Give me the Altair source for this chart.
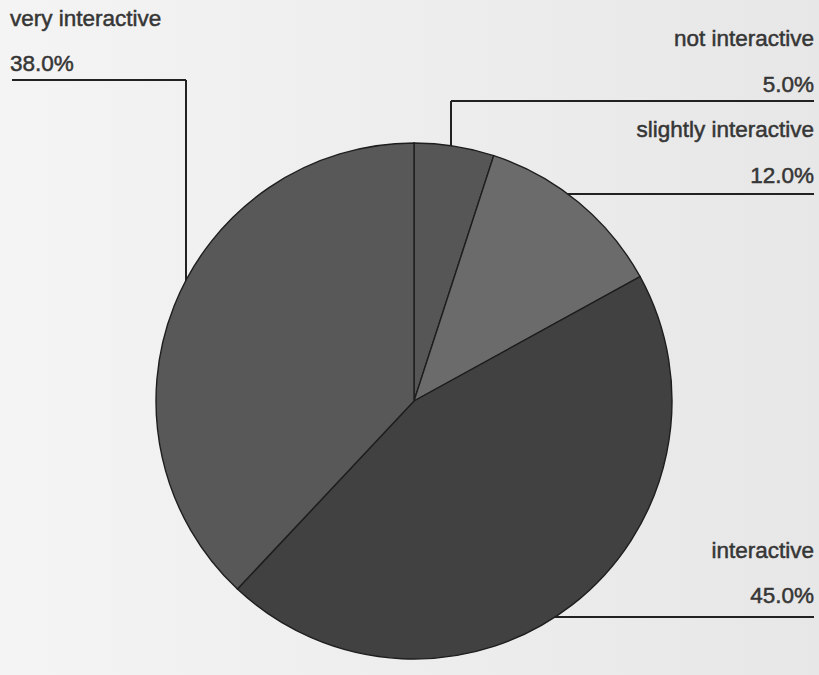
import altair as alt
import pandas as pd

# ---- data ----
categories = ["not interactive", "slightly interactive", "interactive", "very interactive"]
values = [5.0, 12.0, 45.0, 38.0]
order = [0, 1, 2, 3]

# ---- style / layout (kept separate from data) ----
colors = ["#565656", "#6b6b6b", "#414141", "#585858"]
cx, cy, R = 414, 401, 258
label_x = [814, 814, 814, 10]
label_align = ["right", "right", "right", "left"]
name_y = [46, 137, 558, 26]
pct_y = [92, 183, 603, 71]
# leader lines (pixel layout)
h_lines = pd.DataFrame({"x": [12, 451, 566, 553], "x2": [186, 814, 814, 814], "y": [80, 101, 194, 617]})
v_lines = pd.DataFrame({"x": [186, 451], "y": [80, 101], "y2": [282, 146]})

FONT = "Liberation Sans"
TXT = "#363636"
LINE = "#222222"

pie_df = pd.DataFrame({"category": categories, "value": values, "idx": order})

bg = alt.Chart(pd.DataFrame({"a": [0]})).mark_rect(
    color=alt.Gradient(
        gradient="linear",
        stops=[alt.GradientStop(color="#f4f4f4", offset=0),
               alt.GradientStop(color="#e7e7e7", offset=1)],
        x1=0, x2=1, y1=0, y2=0,
    )
).encode(x=alt.value(0), x2=alt.value(819), y=alt.value(0), y2=alt.value(675))

pie = alt.Chart(pie_df).mark_arc(radius=R, stroke="#1e1e1e", strokeWidth=1.4).encode(
    theta=alt.Theta("value:Q", stack=True),
    color=alt.Color("category:N", scale=alt.Scale(domain=categories, range=colors), legend=None),
    order=alt.Order("idx:Q"),
    x=alt.value(cx),
    y=alt.value(cy),
)

lab_rows = []
for c, v, lx, al, ny, py in zip(categories, values, label_x, label_align, name_y, pct_y):
    lab_rows.append({"text": c, "lx": lx, "ly": ny, "align": al})
    lab_rows.append({"text": f"{v:.1f}%", "lx": lx, "ly": py, "align": al})
lab_df = pd.DataFrame(lab_rows)

def text_layer(al):
    return alt.Chart(lab_df[lab_df["align"] == al]).mark_text(
        align=al, baseline="alphabetic", font=FONT, fontSize=22.5, color=TXT,
        stroke=TXT, strokeWidth=0.5,
    ).encode(
        x=alt.X("lx:Q", scale=None, axis=None),
        y=alt.Y("ly:Q", scale=None, axis=None),
        text="text:N",
    )

hl = alt.Chart(h_lines).mark_rule(color=LINE, strokeWidth=2).encode(
    x=alt.X("x:Q", scale=None, axis=None),
    x2="x2:Q",
    y=alt.Y("y:Q", scale=None, axis=None),
)
vl = alt.Chart(v_lines).mark_rule(color=LINE, strokeWidth=2).encode(
    x=alt.X("x:Q", scale=None, axis=None),
    y=alt.Y("y:Q", scale=None, axis=None),
    y2="y2:Q",
)

chart = alt.layer(bg, hl, vl, pie, text_layer("left"), text_layer("right")).properties(
    width=819, height=675, padding=0,
    autosize=alt.AutoSizeParams(type="none"),
    background="#ececec",
).configure_view(stroke=None)

chart.save("out.html", embed_options={"renderer": "svg", "actions": False})
